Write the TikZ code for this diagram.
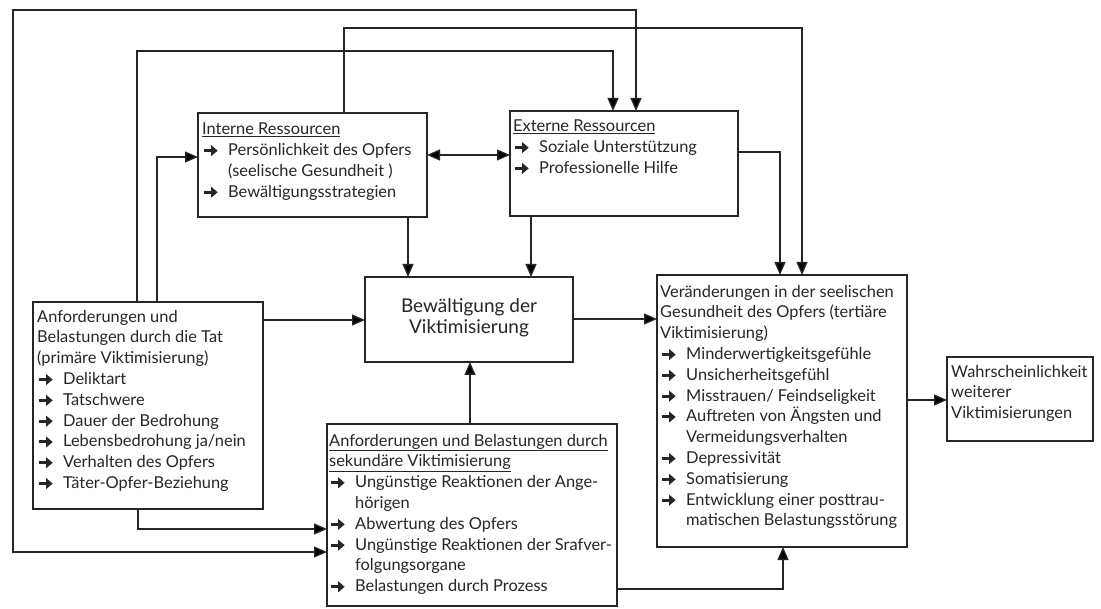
\documentclass[tikz,border=0pt]{standalone}
\usepackage{fontspec}
\setmainfont{Lato}
\usetikzlibrary{arrows.meta,calc}
\definecolor{ink}{gray}{0.15}
\newcommand\bul{\tikz[x=1pt,y=1pt,baseline=0pt]{\draw[ink, line width=3pt, -{Triangle[length=6.5pt,width=10.5pt]}] (0,5) -- (14,5);}}
\newcommand\itm{\makebox[26pt][l]{\bul}}
\newcommand\cnt{\hspace*{26pt}}
\begin{document}
\begin{tikzpicture}[x=1pt,y=-1pt,
  box/.style={draw=ink, line width=1.3pt, inner sep=0pt, outer sep=0pt, rectangle},
  txt/.style={anchor=north west, inner sep=0pt, align=left, text=ink, font={\fontsize{16.4}{20.8}\selectfont}},
  arr/.style={draw=ink, line width=1.3pt, -{Triangle[length=13pt,width=11pt]}},
  dbl/.style={draw=ink, line width=1.3pt, {Triangle[length=13pt,width=11pt]}-{Triangle[length=13pt,width=11pt]}}]
\fill[white] (0,0) rectangle (1101,609);
\useasboundingbox (0,0) rectangle (1101,609);

% boxes
\node[box, minimum width=229pt, minimum height=104pt] (int) at (312.5,165) {};
\node[box, minimum width=228pt, minimum height=105pt] (ext) at (624,163.5) {};
\node[box, minimum width=208pt, minimum height=85pt] (bew) at (469,319.5) {};
\node[box, minimum width=230pt, minimum height=207pt] (anf) at (148,405.5) {};
\node[box, minimum width=290pt, minimum height=182pt] (sek) at (472,515) {};
\node[box, minimum width=250pt, minimum height=272pt] (ver) at (782,411) {};
\node[box, minimum width=146pt, minimum height=84pt] (wah) at (1020,399) {};

% texts
\node[txt] (tint) at (202,122.9) {\underline{Interne Ressourcen}\\
\itm Persönlichkeit des Opfers\\
\cnt (seelische Gesundheit )\\
\itm Bewältigungsstrategien};

\node[txt] (text) at (513,119.9) {\underline{Externe Ressourcen}\\
\itm Soziale Unterstützung\\
\itm Professionelle Hilfe};

\node[anchor=center, inner sep=0pt, align=center, text=ink, font={\fontsize{19}{21}\selectfont}] (tbew) at (469,317.5) {Bewältigung der\\Viktimisierung};

\node[txt] (tanf) at (37,309.9) {Anforderungen und\\
Belastungen durch die Tat\\
(primäre Viktimisierung)\\
\itm Deliktart\\
\itm Tatschwere\\
\itm Dauer der Bedrohung\\
\itm Lebensbedrohung ja/nein\\
\itm Verhalten des Opfers\\
\itm Täter-Opfer-Beziehung};

\node[txt] (tsek) at (329,433.9) {\underline{Anforderungen und Belastungen durch}\\
\underline{sekundäre Viktimisierung}\\
\itm Ungünstige Reaktionen der Ange-\\
\cnt hörigen\\
\itm Abwertung des Opfers\\
\itm Ungünstige Reaktionen der Srafver-\\
\cnt folgungsorgane\\
\itm Belastungen durch Prozess};

\node[txt] (tver) at (660,284.9) {Veränderungen in der seelischen\\
Gesundheit des Opfers (tertiäre\\
Viktimisierung)\\
\itm Minderwertigkeitsgefühle\\
\itm Unsicherheitsgefühl\\
\itm Misstrauen/ Feindseligkeit\\
\itm Auftreten von Ängsten und\\
\cnt Vermeidungsverhalten\\
\itm Depressivität\\
\itm Somatisierung\\
\itm Entwicklung einer posttrau-\\
\cnt matischen Belastungsstörung};

\node[txt] (twah) at (951,364.9) {Wahrscheinlichkeit\\weiterer\\Viktimisierungen};

% connectors
\draw[arr] ($(anf.north)+(9,0)$) |- ($(int.west)+(0,-8)$);
\draw[arr] ($(anf.north)+(-11,0)$) |- ($(ext.north)+(-11,-60)$) -- ($(ext.north)+(-11,0)$);
\draw[dbl] ($(sek.west)+(0,37)$) -| (13,10) -| ($(ext.north)+(12,0)$);
\draw[arr] ($(int.north)+(31.5,0)$) |- ($(ver.north)+(20,-247)$) -- ($(ver.north)+(20,0)$);
\draw[dbl] ($(int.east)+(0,-10)$) -- ($(ext.west)+(0,-8.5)$);
\draw[arr] ($(ext.east)+(0,-11.5)$) -| ($(ver.north)+(-2,0)$);
\draw[arr] ($(int.south)+(95.5,0)$) -- ($(bew.north)+(-61,0)$);
\draw[arr] ($(ext.south)+(-93,0)$) -- ($(bew.north)+(62,0)$);
\draw[arr] ($(anf.east)+(0,-85.5)$) -- ($(bew.west)+(0,0.5)$);
\draw[arr] ($(bew.east)+(0,-0.5)$) -- ($(ver.west)+(0,-92)$);
\draw[arr] ($(sek.north)+(-2,0)$) -- ($(bew.south)+(1,0)$);
\draw[arr] ($(anf.south)+(-10,0)$) |- ($(sek.west)+(0,14)$);
\draw[arr] ($(sek.east)+(0,74)$) -| ($(ver.south)+(1,0)$);
\draw[arr] ($(ver.east)+(0,-11)$) -- ($(wah.west)+(0,1)$);
\end{tikzpicture}
\end{document}
